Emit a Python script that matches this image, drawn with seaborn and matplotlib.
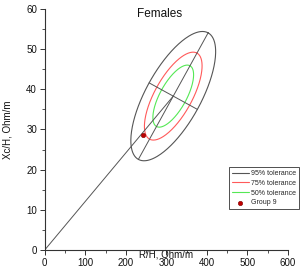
import numpy as np
import pandas as pd
import matplotlib
matplotlib.use("Agg")
import matplotlib.pyplot as plt
import seaborn as sns

# mean vector of the reference population (R/H, Xc/H)
mean_r = 317.0
mean_xc = 38.3
# half axes of the 95% tolerance ellipse, in data units
major_half = (86.0, 15.75)
minor_half = (59.5, -3.3)
# tolerance levels and their size relative to the 95% ellipse
tol_labels = ["95% tolerance", "75% tolerance", "50% tolerance"]
tol_scales = [1.0, 0.68, 0.48]
tol_colors = ["#555555", "#ff5a5a", "#55e855"]
# group point
group_name = "Group 9"
group_r = [242.0]
group_xc = [28.6]

sns.set_theme(style="ticks")
plt.rcParams["font.family"] = ["Liberation Sans", "DejaVu Sans"]

fig = plt.figure(figsize=(3.0, 2.71), dpi=100)
ax = fig.add_axes([0.149, 0.0775, 0.811, 0.8895])

t = np.linspace(0, 2 * np.pi, 300)
for lab, sc, col in zip(tol_labels, tol_scales, tol_colors):
    ell = pd.DataFrame({
        "r": mean_r + sc * (major_half[0] * np.cos(t) + minor_half[0] * np.sin(t)),
        "xc": mean_xc + sc * (major_half[1] * np.cos(t) + minor_half[1] * np.sin(t)),
    })
    sns.lineplot(data=ell, x="r", y="xc", sort=False, estimator=None,
                 color=col, lw=0.8, ax=ax, label=lab)

# axes of the 95% ellipse and line from origin to mean
ax.plot([mean_r - major_half[0], mean_r + major_half[0]],
        [mean_xc - major_half[1], mean_xc + major_half[1]], color="#555555", lw=0.7)
ax.plot([mean_r - minor_half[0], mean_r + minor_half[0]],
        [mean_xc - minor_half[1], mean_xc + minor_half[1]], color="#555555", lw=0.7)
ax.plot([0, mean_r], [0, mean_xc], color="#555555", lw=0.7)

sns.scatterplot(x=group_r, y=group_xc, color="#c00000", s=10, edgecolor="#800000",
                linewidth=0.4, ax=ax, label=group_name, zorder=5)

ax.set_xlim(0, 600)
ax.set_ylim(0, 60)
ax.set_xticks([0, 100, 200, 300, 400, 500, 600])
ax.set_yticks([0, 10, 20, 30, 40, 50, 60])
ax.set_xticks(np.arange(50, 600, 100), minor=True)
ax.set_yticks(np.arange(5, 60, 10), minor=True)
ax.tick_params(which="major", labelsize=7, length=3.5, width=0.7, colors="#333333", pad=2)
ax.tick_params(which="minor", length=2.2, width=0.6, colors="#333333")
ax.tick_params(axis="both", labelcolor="#111111")
sns.despine(ax=ax)
for s in ["left", "bottom"]:
    ax.spines[s].set_linewidth(0.8)
    ax.spines[s].set_color("#333333")

ax.set_xlabel("R/H, Ohm/m", fontsize=7, color="#111111")
ax.xaxis.set_label_coords(0.5, 0.0)
ax.set_ylabel("Xc/H, Ohm/m", fontsize=7, color="#111111")
ax.yaxis.set_label_coords(-0.132, 0.5)
ax.text(0.474, 0.979, "Females", transform=ax.transAxes, ha="center", va="center",
        fontsize=8.5, color="#111111")

leg = ax.legend(loc="lower left", bbox_to_anchor=(0.757, 0.169), fontsize=5.0,
                frameon=True, fancybox=False, edgecolor="black", borderaxespad=0,
                borderpad=0.4, handlelength=2.5, handletextpad=0.3, labelspacing=0.4)
leg.get_frame().set_linewidth(0.6)
leg.set_zorder(10)

fig.savefig("out.png", dpi=100)
